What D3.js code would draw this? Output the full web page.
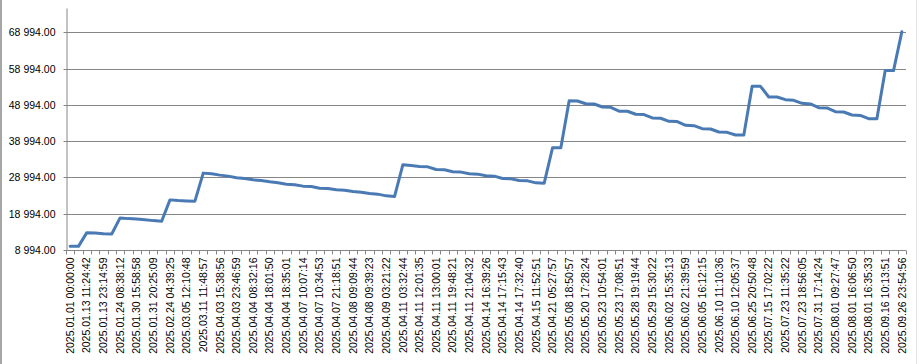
<!DOCTYPE html>
<html>
<head>
<meta charset="utf-8">
<script src="https://cdn.jsdelivr.net/npm/d3@7"></script>
<style>
  body { margin: 0; background: #fff; }
  text { font-family: "Liberation Sans", Arial, sans-serif; fill: #000; }
</style>
</head>
<body>
<figure id="line" style="margin:0"></figure>
<script>
// balance at each deal (101 points, every second one labelled)
const values = [
  10000, 10000, 13780, 13700, 13500, 13420, 17840, 17650, 17560, 17370,
  17100, 16930, 22820, 22630, 22540, 22460, 30200, 30010, 29650, 29370,
  28900, 28710, 28350, 28160, 27800, 27520, 27160, 26970, 26610, 26520,
  26050, 25960, 25600, 25500, 25120, 24950, 24560, 24400, 23930, 23740,
  32500, 32300, 32030, 31940, 31200, 31110, 30560, 30480, 30010, 29920,
  29460, 29370, 28710, 28620, 28160, 28070, 27520, 27430, 37200, 37200,
  50190, 50100, 49350, 49270, 48440, 48340, 47300, 47270, 46440, 46350,
  45430, 45340, 44500, 44420, 43400, 43300, 42450, 42370, 41540, 41450,
  40710, 40710, 54150, 54150, 51210, 51210, 50470, 50280, 49450, 49280,
  48260, 48170, 47150, 47070, 46240, 46130, 45220, 45220, 58490, 58490,
  69200
];

// category labels shown on the axis (every second category)
const tickLabels = [
  "2025.01.01 00:00:00", "2025.01.13 11:24:42", "2025.01.13 23:14:59",
  "2025.01.24 08:38:12", "2025.01.30 15:58:58", "2025.01.31 20:25:09",
  "2025.02.24 04:39:25", "2025.03.05 12:10:48", "2025.03.11 11:48:57",
  "2025.04.03 15:38:56", "2025.04.03 23:46:59", "2025.04.04 08:32:16",
  "2025.04.04 18:01:50", "2025.04.04 18:35:01", "2025.04.07 10:07:14",
  "2025.04.07 10:34:53", "2025.04.07 21:18:51", "2025.04.08 09:09:44",
  "2025.04.08 09:39:23", "2025.04.09 03:21:22", "2025.04.11 03:32:44",
  "2025.04.11 12:01:35", "2025.04.11 13:00:01", "2025.04.11 19:48:21",
  "2025.04.11 21:04:32", "2025.04.14 16:39:26", "2025.04.14 17:15:43",
  "2025.04.14 17:32:40", "2025.04.15 11:52:51", "2025.04.21 05:27:57",
  "2025.05.08 18:50:57", "2025.05.20 17:28:24", "2025.05.23 10:54:01",
  "2025.05.23 17:08:51", "2025.05.28 19:19:44", "2025.05.29 15:30:22",
  "2025.06.02 15:35:13", "2025.06.02 21:39:59", "2025.06.05 16:12:15",
  "2025.06.10 11:10:36", "2025.06.10 12:05:37", "2025.06.25 20:50:48",
  "2025.07.15 17:02:22", "2025.07.23 11:35:22", "2025.07.23 18:56:05",
  "2025.07.31 17:14:24", "2025.08.01 09:27:47", "2025.08.01 16:06:50",
  "2025.08.01 16:35:33", "2025.09.16 10:13:51", "2025.09.26 23:54:56"
];

// y axis ticks
const yTicks = [8994, 18994, 28994, 38994, 48994, 58994, 68994];
const yMin = 8994;
const yMax = 75750;

const width = 921;
const height = 364;
const margin = { left: 66, right: 906, top: 8, bottom: 250 };

const svg = d3.select("figure#line")
  .append("svg")
  .attr("width", width)
  .attr("height", height);

// chart frame edges
svg.append("line").attr("x1", 1).attr("x2", 1).attr("y1", 0).attr("y2", height)
  .attr("stroke", "#a6a6a6").attr("stroke-width", 2);
svg.append("line").attr("x1", 916.5).attr("x2", 916.5).attr("y1", 0).attr("y2", height)
  .attr("stroke", "#e3e3e3").attr("stroke-width", 1);

const idx = d3.range(values.length);

const x = d3.scaleBand()
  .domain(idx)
  .range([margin.left, margin.right])
  .padding(0);

const y = d3.scaleLinear()
  .domain([yMin, yMax])
  .range([margin.bottom, margin.top]);

const fmt = d3.formatLocale({ decimal: ".", thousands: " ", grouping: [3], currency: ["", ""] }).format(",.2f");

// gridlines
svg.append("g")
  .selectAll("line")
  .data(yTicks)
  .enter()
  .append("line")
  .attr("x1", margin.left)
  .attr("x2", margin.right)
  .attr("y1", d => Math.round(y(d)) + 0.5)
  .attr("y2", d => Math.round(y(d)) + 0.5)
  .attr("stroke", "#868686");

// y axis
const yAxis = svg.append("g")
  .attr("transform", "translate(" + (margin.left + 0.5) + ",0)")
  .call(d3.axisLeft(y).tickValues(yTicks).tickFormat(fmt).tickSize(3).tickSizeOuter(0).tickPadding(8));
yAxis.select(".domain").attr("stroke", "#868686");
yAxis.selectAll(".tick line").attr("stroke", "#868686");
yAxis.selectAll(".tick").attr("transform", d => "translate(0," + (Math.round(y(d)) + 0.5) + ")");
yAxis.selectAll("text").style("font-size", "10.5px").attr("fill", "#000");

// x axis line and tick marks between categories
const xBase = Math.round(y(yMin)) + 0.5;
svg.append("line")
  .attr("x1", margin.left).attr("x2", margin.right)
  .attr("y1", xBase).attr("y2", xBase)
  .attr("stroke", "#868686");
svg.append("g")
  .selectAll("line")
  .data(idx.concat([values.length]))
  .enter()
  .append("line")
  .attr("x1", d => Math.round(d < values.length ? x(d) : margin.right) + 0.5)
  .attr("x2", d => Math.round(d < values.length ? x(d) : margin.right) + 0.5)
  .attr("y1", xBase)
  .attr("y2", xBase + 4)
  .attr("stroke", "#868686");

// category labels
svg.append("g")
  .selectAll("text")
  .data(tickLabels)
  .enter()
  .append("text")
  .attr("transform", (d, i) => "translate(" + (x(i * 2) + x.bandwidth() / 2) + "," + (xBase + 7) + ")rotate(-90)")
  .attr("dy", "0.35em")
  .attr("text-anchor", "end")
  .style("font-size", "10.5px")
  .text(d => d);

// balance line
const line = d3.line()
  .x(i => x(i) + x.bandwidth() / 2)
  .y(i => y(values[i]));

svg.append("path")
  .datum(idx)
  .attr("d", line)
  .attr("fill", "none")
  .attr("stroke", "#4a7ab4")
  .attr("stroke-width", 3)
  .attr("stroke-linejoin", "round")
  .attr("stroke-linecap", "round");
</script>
</body>
</html>
